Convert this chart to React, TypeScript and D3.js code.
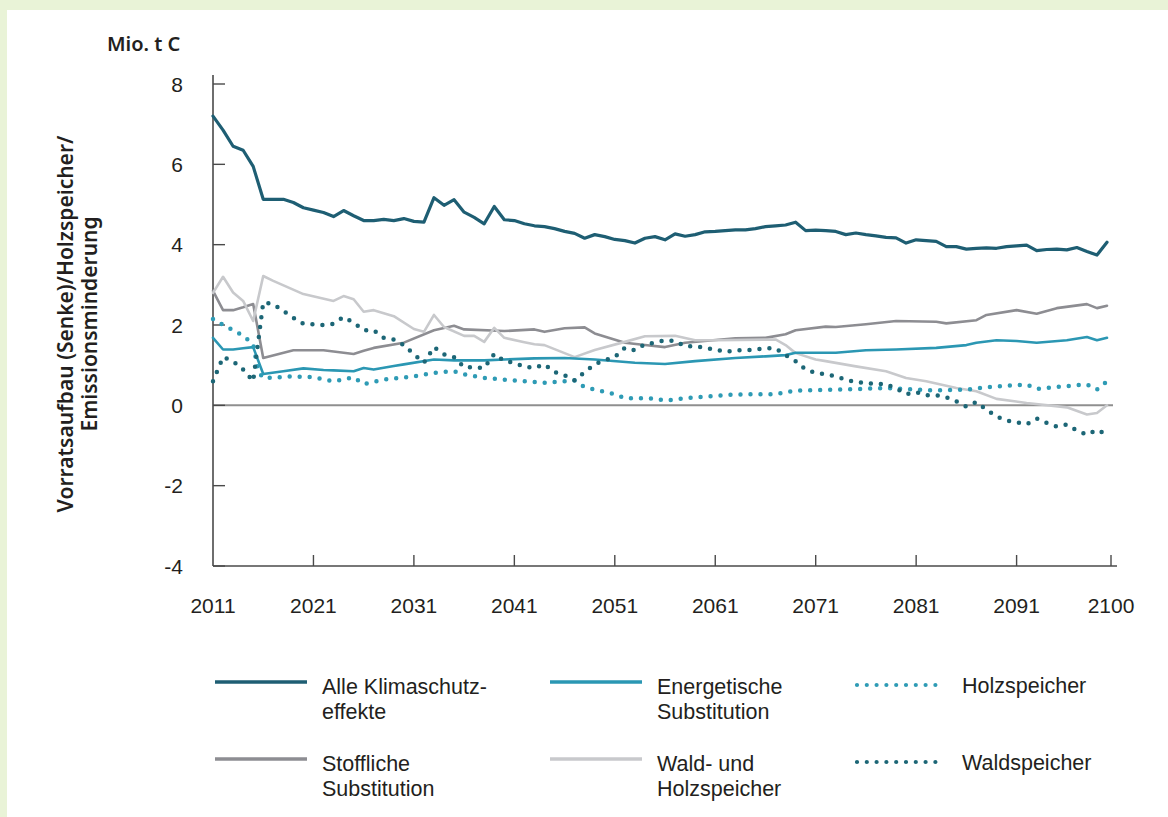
import React from "react";
import * as d3 from "d3";

// ---- data (Mio. t C) ----
const allKlima: [number, number][] = [
  [2011, 7.2], [2012, 6.85], [2013, 6.45], [2014, 6.35], [2015, 5.95], [2016, 5.13], [2018, 5.13], [2019, 5.05], [2020, 4.92],
  [2021, 4.86], [2022, 4.8], [2023, 4.7], [2024, 4.85], [2025, 4.72], [2026, 4.6], [2027, 4.6], [2028, 4.63], [2029, 4.6],
  [2030, 4.65], [2031, 4.58], [2032, 4.56], [2033, 5.17], [2034, 4.98], [2035, 5.12], [2036, 4.81], [2037, 4.68], [2038, 4.52],
  [2039, 4.95], [2040, 4.62], [2041, 4.6], [2042, 4.52], [2043, 4.47], [2044, 4.45], [2045, 4.4], [2046, 4.33], [2047, 4.28],
  [2048, 4.16], [2049, 4.25], [2050, 4.2], [2051, 4.13], [2052, 4.1], [2053, 4.04], [2054, 4.16], [2055, 4.2], [2056, 4.12],
  [2057, 4.27], [2058, 4.21], [2059, 4.25], [2060, 4.32], [2061, 4.33], [2062, 4.35], [2063, 4.37], [2064, 4.37], [2065, 4.4],
  [2066, 4.45], [2067, 4.47], [2068, 4.49], [2069, 4.56], [2070, 4.35], [2071, 4.36], [2072, 4.35], [2073, 4.33], [2074, 4.25],
  [2075, 4.29], [2076, 4.25], [2077, 4.22], [2078, 4.18], [2079, 4.17], [2080, 4.04], [2081, 4.12], [2082, 4.1], [2083, 4.08],
  [2084, 3.95], [2085, 3.95], [2086, 3.89], [2087, 3.91], [2088, 3.92], [2089, 3.91], [2090, 3.95], [2091, 3.97], [2092, 3.99],
  [2093, 3.85], [2094, 3.88], [2095, 3.89], [2096, 3.87], [2097, 3.93], [2098, 3.83], [2099, 3.74], [2100, 4.06],
];

const energetisch: [number, number][] = [
  [2011, 1.68], [2012, 1.39], [2013, 1.39], [2014, 1.42], [2015, 1.45], [2016, 0.78], [2018, 0.85], [2020, 0.92], [2022, 0.88],
  [2023, 0.87], [2025, 0.85], [2026, 0.93], [2027, 0.89], [2029, 0.98], [2030, 1.02], [2033, 1.14], [2035, 1.12], [2038, 1.12],
  [2040, 1.14], [2043, 1.17], [2046, 1.18], [2049, 1.14], [2053, 1.06], [2056, 1.03], [2059, 1.1], [2063, 1.18], [2066, 1.22],
  [2068, 1.25], [2069, 1.31], [2073, 1.31], [2076, 1.37], [2079, 1.39], [2083, 1.43], [2086, 1.5], [2087, 1.56], [2089, 1.62],
  [2091, 1.6], [2093, 1.56], [2096, 1.62], [2098, 1.7], [2099, 1.62], [2100, 1.68],
];

const stofflich: [number, number][] = [
  [2011, 2.85], [2012, 2.37], [2013, 2.37], [2014, 2.44], [2015, 2.52], [2016, 1.18], [2019, 1.37], [2022, 1.37], [2025, 1.28],
  [2026, 1.36], [2027, 1.43], [2030, 1.56], [2033, 1.87], [2035, 1.98], [2036, 1.89], [2040, 1.85], [2043, 1.89], [2044, 1.83],
  [2046, 1.92], [2048, 1.94], [2049, 1.79], [2052, 1.56], [2054, 1.5], [2056, 1.45], [2058, 1.56], [2063, 1.67], [2066, 1.68],
  [2068, 1.77], [2069, 1.87], [2072, 1.96], [2073, 1.95], [2076, 2.02], [2079, 2.1], [2083, 2.08], [2084, 2.04], [2087, 2.12],
  [2088, 2.25], [2091, 2.37], [2093, 2.28], [2095, 2.42], [2098, 2.52], [2099, 2.42], [2100, 2.48],
];

const waldUndHolz: [number, number][] = [
  [2011, 2.8], [2012, 3.2], [2013, 2.81], [2014, 2.6], [2015, 2.1], [2016, 3.22], [2017, 3.1], [2020, 2.77], [2023, 2.6],
  [2024, 2.72], [2025, 2.64], [2026, 2.33], [2027, 2.37], [2029, 2.22], [2031, 1.9], [2032, 1.83], [2033, 2.25], [2034, 1.95],
  [2036, 1.73], [2037, 1.73], [2038, 1.58], [2039, 1.93], [2040, 1.68], [2042, 1.57], [2043, 1.52], [2044, 1.5], [2045, 1.4],
  [2047, 1.2], [2049, 1.38], [2052, 1.58], [2054, 1.72], [2057, 1.73], [2059, 1.62], [2061, 1.62], [2067, 1.64], [2068, 1.5],
  [2069, 1.3], [2071, 1.14], [2072, 1.1], [2075, 0.97], [2078, 0.85], [2080, 0.68], [2082, 0.6], [2085, 0.43], [2087, 0.35],
  [2089, 0.16], [2092, 0.06], [2096, -0.05], [2098, -0.23], [2099, -0.19], [2100, 0.0],
];

const holzspeicher: [number, number][] = [
  [2011, 2.15], [2012, 2.0], [2013, 1.87], [2014, 1.73], [2015, 1.52], [2015.5, 0.85], [2016, 0.68], [2019, 0.72], [2021, 0.7],
  [2023, 0.6], [2024, 0.64], [2025, 0.7], [2026, 0.53], [2028, 0.64], [2031, 0.72], [2033, 0.81], [2035, 0.85], [2036, 0.77],
  [2038, 0.68], [2041, 0.62], [2044, 0.56], [2047, 0.62], [2048, 0.45], [2051, 0.28], [2052, 0.18], [2055, 0.17], [2056, 0.12],
  [2059, 0.2], [2063, 0.27], [2067, 0.28], [2069, 0.37], [2073, 0.39], [2078, 0.43], [2083, 0.37], [2086, 0.39], [2088, 0.45],
  [2092, 0.52], [2093, 0.41], [2096, 0.48], [2098, 0.52], [2099, 0.39], [2100, 0.6],
];

const waldspeicher: [number, number][] = [
  [2011, 0.6], [2012, 1.2], [2013, 1.1], [2014, 0.89], [2015, 0.6], [2016, 2.56], [2017, 2.52], [2018, 2.35], [2019, 2.18],
  [2020, 2.03], [2022, 2.0], [2023, 2.03], [2024, 2.2], [2025, 2.06], [2026, 1.87], [2027, 1.87], [2028, 1.68], [2029, 1.64],
  [2030, 1.5], [2031, 1.27], [2032, 1.06], [2033, 1.45], [2034, 1.27], [2035, 1.2], [2036, 0.95], [2037, 0.95], [2038, 0.93],
  [2039, 1.28], [2040, 1.1], [2041, 1.06], [2042, 0.96], [2043, 0.93], [2044, 1.02], [2045, 0.83], [2046, 0.75], [2047, 0.62],
  [2048, 0.83], [2049, 1.02], [2050, 1.12], [2051, 1.2], [2052, 1.43], [2053, 1.37], [2054, 1.52], [2055, 1.56], [2056, 1.62],
  [2057, 1.6], [2058, 1.47], [2059, 1.47], [2060, 1.43], [2061, 1.39], [2062, 1.33], [2063, 1.37], [2064, 1.37], [2065, 1.39],
  [2066, 1.42], [2067, 1.42], [2068, 1.25], [2069, 1.1], [2070, 0.89], [2071, 0.81], [2072, 0.77], [2073, 0.72], [2074, 0.64],
  [2075, 0.58], [2076, 0.56], [2077, 0.53], [2078, 0.53], [2079, 0.42], [2080, 0.28], [2081, 0.33], [2082, 0.25], [2083, 0.25],
  [2084, 0.2], [2085, 0.1], [2086, -0.03], [2087, 0.08], [2088, -0.11], [2089, -0.28], [2090, -0.38], [2091, -0.42], [2092, -0.47],
  [2093, -0.33], [2094, -0.44], [2095, -0.53], [2096, -0.48], [2097, -0.63], [2098, -0.73], [2099, -0.61], [2100, -0.72],
];

const xTicks = [2011, 2021, 2031, 2041, 2051, 2061, 2071, 2081, 2091, 2100];
const yTicks = [-4, -2, 0, 2, 4, 6, 8];
const unitLabel = "Mio. t C";
const yTitle = ["Vorratsaufbau (Senke)/Holzspeicher/", "Emissionsminderung"];

type Series = { name: string[]; data: [number, number][]; color: string; dotted: boolean; width: number };
const series: Series[] = [
  { name: ["Stoffliche", "Substitution"], data: stofflich, color: "#8d8d92", dotted: false, width: 2.6 },
  { name: ["Wald- und", "Holzspeicher"], data: waldUndHolz, color: "#c8c9cc", dotted: false, width: 2.6 },
  { name: ["Energetische", "Substitution"], data: energetisch, color: "#2b97b3", dotted: false, width: 2.6 },
  { name: ["Holzspeicher"], data: holzspeicher, color: "#2e9bb5", dotted: true, width: 4.5 },
  { name: ["Waldspeicher"], data: waldspeicher, color: "#1c6676", dotted: true, width: 4.5 },
  { name: ["Alle Klimaschutz-", "effekte"], data: allKlima, color: "#1e5e73", dotted: false, width: 3.2 },
];

const legendOrder = [
  { s: 5, x: 215, y: 682 },
  { s: 2, x: 550, y: 682 },
  { s: 3, x: 855, y: 685 },
  { s: 0, x: 215, y: 759 },
  { s: 1, x: 550, y: 759 },
  { s: 4, x: 855, y: 762 },
];

const FONT = "'Liberation Sans', Arial, sans-serif";
const TITLE_FONT = "'Noto Sans', 'Open Sans', sans-serif";
const TXT = "#231f20";

export default function App() {
  const W = 1168, H = 817;
  const x = d3.scaleLinear().domain([2011, 2100]).range([213, 1107]);
  const y = d3.scaleLinear().domain([-4, 8]).range([566, 84]);
  const line = d3.line<[number, number]>().x((d) => x(d[0])).y((d) => y(d[1]));

  return (
    <svg width={W} height={H} style={{ position: "absolute", left: 0, top: 0 }} fontFamily={FONT}>
      <rect x={0} y={0} width={W} height={H} fill="#e9f3d7" />
      <rect x={7} y={10} width={W - 7} height={H - 10} fill="#ffffff" />

      {/* unit label */}
      <text x={107} y={51} fontSize={20} fontWeight={600} fontFamily={TITLE_FONT} fill={TXT}>{unitLabel}</text>

      {/* y title */}
      <g transform="translate(73,324) rotate(-90)" fontFamily={TITLE_FONT}>
        <text x={0} y={0} textAnchor="middle" fontSize={21} fontWeight={600} fill={TXT}>{yTitle[0]}</text>
        <text x={0} y={24} textAnchor="middle" fontSize={21} fontWeight={600} fill={TXT}>{yTitle[1]}</text>
      </g>

      {/* zero line */}
      <line x1={x(2011)} x2={1113} y1={y(0)} y2={y(0)} stroke="#8f8f8f" strokeWidth={2} />

      {/* axes */}
      <line x1={213} x2={213} y1={75} y2={y(-4)} stroke="#4a4a4a" strokeWidth={1.6} />
      <line x1={213} x2={1117} y1={y(-4)} y2={y(-4)} stroke="#4a4a4a" strokeWidth={1.6} />
      {yTicks.map((t) => (
        <g key={"y" + t}>
          <line x1={213} x2={225} y1={y(t)} y2={y(t)} stroke="#4a4a4a" strokeWidth={1.4} />
          <text x={183} y={y(t)} dy="0.36em" textAnchor="end" fontSize={21} fill={TXT}>{t}</text>
        </g>
      ))}
      {xTicks.map((t, i) => {
        const px = i === xTicks.length - 1 ? x(t) + 4 : x(t);
        return (
          <g key={"x" + t}>
            {i > 0 && <line x1={px} x2={px} y1={y(-4)} y2={y(-4) - 11} stroke="#4a4a4a" strokeWidth={1.4} />}
            <text x={px} y={613} textAnchor="middle" fontSize={21} fill={TXT}>{t}</text>
          </g>
        );
      })}

      {/* series */}
      {series.map((s, i) => (
        <path
          key={i}
          d={line(s.data) || ""}
          fill="none"
          stroke={s.color}
          strokeWidth={s.width}
          strokeLinecap="round"
          strokeLinejoin="round"
          strokeDasharray={s.dotted ? "0 10" : undefined}
        />
      ))}

      {/* legend */}
      {legendOrder.map((l, i) => {
        const s = series[l.s];
        return (
          <g key={"lg" + i}>
            <line
              x1={s.dotted ? l.x + 2 : l.x}
              x2={s.dotted ? l.x + 90 : l.x + 92}
              y1={l.y}
              y2={l.y}
              stroke={s.color}
              strokeWidth={s.dotted ? 4.2 : 3.6}
              strokeLinecap={s.dotted ? "round" : "butt"}
              strokeDasharray={s.dotted ? "0 9.8" : undefined}
            />
            {s.name.map((n, j) => (
              <text key={j} x={l.x + 107} y={l.y + (s.dotted ? 8 : 12) + j * 25} fontSize={21.5} fill={TXT}>{n}</text>
            ))}
          </g>
        );
      })}
    </svg>
  );
}
